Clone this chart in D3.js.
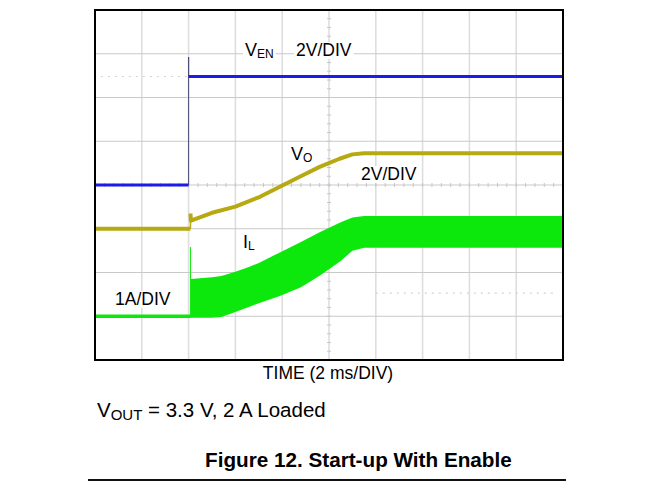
<!DOCTYPE html>
<html><head><meta charset="utf-8">
<script src="https://cdn.jsdelivr.net/npm/d3@7"></script>
<style>
html,body{margin:0;padding:0;background:#fff;}
svg{display:block;font-family:"Liberation Sans",Arial,Helvetica,sans-serif;}
</style></head><body>
<svg id="c" width="653" height="487"></svg>
<script>
// ---------------- DATA ----------------
// Time axis: 10 divisions of 2 ms ; vertical: 8 divisions
const timeTicks = [0, 2, 4, 6, 8, 10, 12, 14, 16, 18, 20];
const divTicks = [0, 1, 2, 3, 4, 5, 6, 7, 8];

// Enable voltage VEN, volts (2 V/DIV, ground at division 4)
const venTime = [0, 4.0, 4.0, 4.0, 20];
const venVolt = [0, 0, 5.85, 4.96, 4.96];

// Output voltage VO, volts (2 V/DIV, ground at division 3)
const voTime = [0, 4.08, 4.08, 4.1, 5.0, 6.0, 7.05, 7.9, 8.75, 9.6, 10.45, 11.0, 11.5, 20];
const voVolt = [0, 0, 0.69, 0.37, 0.73, 1.01, 1.46, 1.92, 2.38, 2.83, 3.2, 3.40, 3.45, 3.45];

// Inductor current IL, amps (1 A/DIV, ground at division 1)
const ilLowTime = [0, 4.1];
const ilLowAmp = [0, 0];
const ilSpikeAmp = 1.58;
const ilBandTime = [4.1, 5.0, 5.4, 6.0, 6.6, 7.0, 7.9, 8.8, 9.6, 10.5, 11.0, 11.5, 20];
const ilBandTop = [0.85, 0.89, 0.92, 1.02, 1.13, 1.22, 1.46, 1.70, 1.92, 2.15, 2.26, 2.29, 2.29];
const ilBandBottom = [0, 0, 0.02, 0.13, 0.25, 0.33, 0.50, 0.70, 0.96, 1.30, 1.53, 1.60, 1.60];

// Channel settings (ground division, units per division)
const chVEN = {ground: 4, perDiv: 2};
const chVO = {ground: 3, perDiv: 2};
const chIL = {ground: 1, perDiv: 1};

// Reference (marker) lines, in divisions
const markerVEN = 6.48;
const markerRight = 1.53;

// ---------------- DRAW ----------------
const svg = d3.select("#c");
const L = 95, R = 563, T = 10, B = 360;
const x = d3.scaleLinear().domain([0, 20]).range([L, R]);
const yd = d3.scaleLinear().domain([0, 8]).range([B, T]);
const yc = (ch, v) => yd(ch.ground + v / ch.perDiv);

const colBlue = "#1c1ce4", colOlive = "#b6a912", colGreen = "#0ce80c";

// grid
const g = svg.append("g");
g.selectAll("line.v").data(timeTicks.slice(1, -1)).join("line")
  .attr("x1", d => x(d)).attr("x2", d => x(d)).attr("y1", T).attr("y2", B)
  .attr("stroke", "#dedede").attr("stroke-width", 1.6);
g.selectAll("line.h").data(divTicks.slice(1, -1)).join("line")
  .attr("x1", L).attr("x2", R).attr("y1", d => yd(d)).attr("y2", d => yd(d))
  .attr("stroke", "#c9c9c9").attr("stroke-width", 1);
// minor ticks on centre lines
const minorX = d3.range(0, 20.001, 0.4);
g.selectAll("line.mx").data(minorX).join("line")
  .attr("x1", d => x(d)).attr("x2", d => x(d)).attr("y1", yd(4) - 2).attr("y2", yd(4) + 2)
  .attr("stroke", "#c6c6c6").attr("stroke-width", 1);
const minorY = d3.range(0, 8.001, 0.2);
g.selectAll("line.my").data(minorY).join("line")
  .attr("y1", d => yd(d)).attr("y2", d => yd(d)).attr("x1", x(10) - 2).attr("x2", x(10) + 2)
  .attr("stroke", "#c6c6c6").attr("stroke-width", 1);
// dotted marker lines
g.append("line").attr("x1", x(0.25)).attr("x2", x(4)).attr("y1", yd(markerVEN)).attr("y2", yd(markerVEN))
  .attr("stroke", "#d2d2d2").attr("stroke-width", 1.2).attr("stroke-dasharray", "2,5");
g.append("line").attr("x1", x(12)).attr("x2", x(19.7)).attr("y1", yd(markerRight)).attr("y2", yd(markerRight))
  .attr("stroke", "#d2d2d2").attr("stroke-width", 1.2).attr("stroke-dasharray", "2,5");

// helper: thick for sloped/horizontal runs, thin for vertical jumps
function trace(times, vals, ch, color, wThick, wThin, thinColor) {
  const pts = times.map((t, i) => [x(t), yc(ch, vals[i])]);
  const line = d3.line();
  let run = [pts[0]];
  const runs = [], verts = [];
  for (let i = 1; i < pts.length; i++) {
    if (times[i] === times[i - 1]) {
      if (run.length > 1) runs.push(run);
      verts.push([pts[i - 1], pts[i]]);
      run = [pts[i]];
    } else run.push(pts[i]);
  }
  if (run.length > 1) runs.push(run);
  verts.forEach(v => svg.append("path").attr("d", line(v)).attr("fill", "none")
    .attr("stroke", thinColor || color).attr("stroke-width", wThin));
  runs.forEach(r => svg.append("path").attr("d", line(r)).attr("fill", "none")
    .attr("stroke", color).attr("stroke-width", wThick).attr("stroke-linejoin", "round"));
}

// IL band
const band = ilBandTime.map((t, i) => ({t, top: ilBandTop[i], bot: ilBandBottom[i]}));
svg.append("path").datum(band)
  .attr("d", d3.area().x(d => x(d.t)).y0(d => yc(chIL, d.bot) + 1.5).y1(d => yc(chIL, d.top)))
  .attr("fill", colGreen);
trace(ilLowTime, ilLowAmp, chIL, colGreen, 3.5, 1);
svg.append("line").attr("x1", x(ilLowTime[1]) - 0.5).attr("x2", x(ilLowTime[1]) - 0.5)
  .attr("y1", yc(chIL, 0)).attr("y2", yc(chIL, ilSpikeAmp)).attr("stroke", colGreen).attr("stroke-width", 1);

trace(voTime, voVolt, chVO, colOlive, 4, 1.5);
trace(venTime, venVolt, chVEN, colBlue, 3, 1, "#4a4a78");

// frame
svg.append("rect").attr("x", L).attr("y", T).attr("width", R - L).attr("height", B - T)
  .attr("fill", "none").attr("stroke", "#000").attr("stroke-width", 2);

// labels
function label(px, py, main, sub, size, subSize, opts) {
  opts = opts || {};
  const t = svg.append("text").attr("x", px).attr("y", py).attr("font-size", size)
    .attr("fill", "#000").attr("text-anchor", opts.anchor || "start")
    .attr("font-weight", opts.bold ? "bold" : "normal");
  t.append("tspan").text(main);
  if (sub) {
    t.append("tspan").attr("font-size", subSize).attr("dy", opts.subDy || 2).text(sub);
    if (opts.rest) t.append("tspan").attr("font-size", size).attr("dy", -(opts.subDy || 2)).text(opts.rest);
  }
  if (opts.bg) {
    const bb = t.node().getBBox();
    svg.insert("rect", () => t.node()).attr("x", bb.x - 2).attr("y", bb.y + 2)
      .attr("width", bb.width + 4).attr("height", bb.height - 3).attr("fill", "#fff");
  }
  return t;
}
label(245, 56, "V", "EN", 18, 12, {bg: true});
label(296, 56, "2V/DIV", null, 17.5, 0, {bg: true});
label(291, 160, "V", "O", 18, 12, {bg: true});
label(361, 180, "2V/DIV", null, 17.5, 0, {bg: true});
label(243, 248, "I", "L", 18, 12, {bg: true});
label(115, 305, "1A/DIV", null, 17.5, 0, {bg: true});
label(328, 379, "TIME (2 ms/DIV)", null, 17.5, 0, {anchor: "middle"});
label(97, 417, "V", "OUT", 20.5, 15, {rest: " = 3.3 V, 2 A Loaded", subDy: 3});
label(205, 467, "Figure 12. Start-up With Enable", null, 20.7, 0, {bold: true});

svg.append("line").attr("x1", 88).attr("x2", 566).attr("y1", 480).attr("y2", 480)
  .attr("stroke", "#111").attr("stroke-width", 2);
</script>
</body></html>
